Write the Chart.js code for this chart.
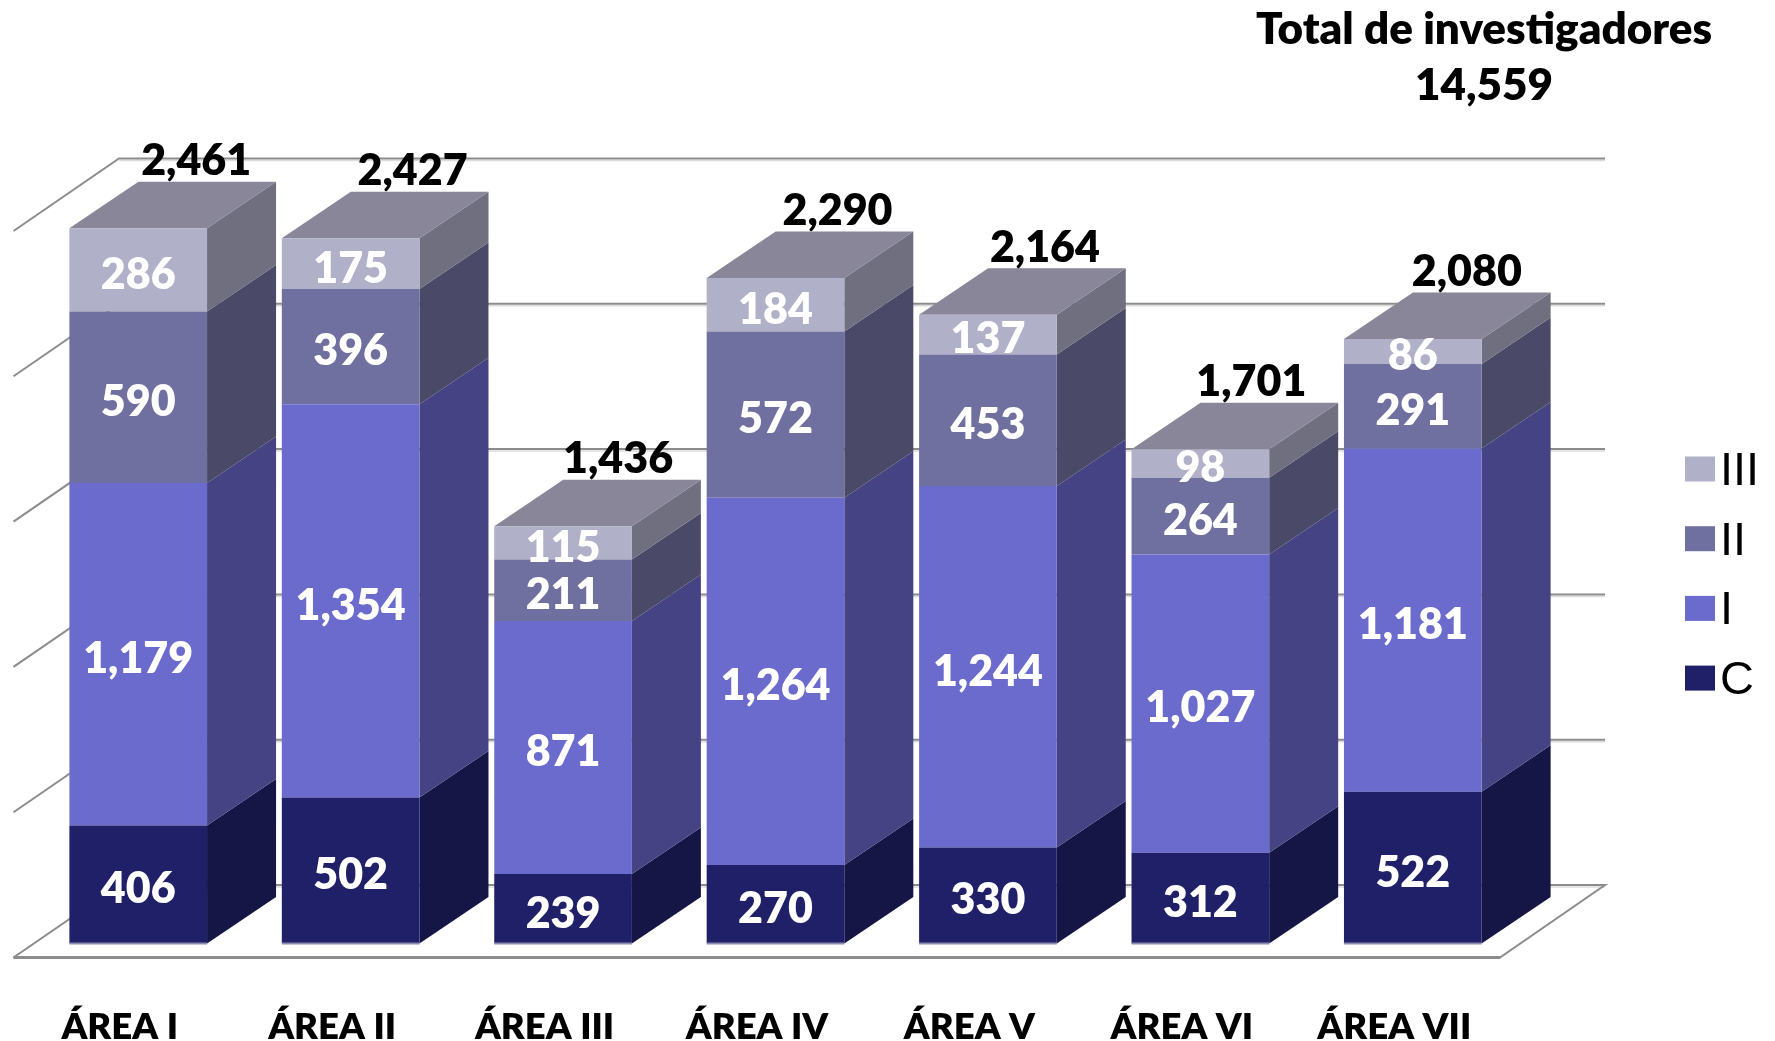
<!DOCTYPE html>
<html>
<head>
<meta charset="utf-8">
<style>html,body{margin:0;padding:0;background:#fff}canvas{display:block}</style>
<script src="https://cdn.jsdelivr.net/npm/chart.js@4"></script>
</head>
<body>
<canvas id="c" width="1775" height="1041"></canvas>
<script>
const categories = ['ÁREA I','ÁREA II','ÁREA III','ÁREA IV','ÁREA V','ÁREA VI','ÁREA VII'];
const valuesC   = [406, 502, 239, 270, 330, 312, 522];
const valuesI   = [1179, 1354, 871, 1264, 1244, 1027, 1181];
const valuesII  = [590, 396, 211, 572, 453, 264, 291];
const valuesIII = [286, 175, 115, 184, 137, 98, 86];
const totals    = [2461, 2427, 1436, 2290, 2164, 1701, 2080];
const yTicks    = [0, 500, 1000, 1500, 2000, 2500];
const titleLines = ['Total de investigadores', '14,559'];

const FONT = 'Lato, Carlito, sans-serif';
const BAR_DX = 69, BAR_DY = 46.5;          // bar depth projection
const WALL = {left:119, right:1605, frontLeft:13.5, frontRight:1500, back:58.5, front:14};
const TOTAL_DX = [58, 62, 55, 62, 57, 51, 54];   // the reference's total labels sit unevenly
const fmt = v => v.toLocaleString('en-US');

const chart3d = {
  id: 'chart3d',
  beforeDatasetsDraw(chart) {
    const {ctx, scales:{y}} = chart;
    ctx.save();
    // back wall grid, side-wall diagonals and floor
    y.ticks.forEach(t => {
      const p = y.getPixelForValue(t.value);
      const by = p - WALL.back, fy = p + WALL.front;
      ctx.lineCap = 'butt';
      ctx.strokeStyle = '#dcdcdc'; ctx.lineWidth = 1.5;
      ctx.beginPath(); ctx.moveTo(WALL.left, by + 2); ctx.lineTo(WALL.right, by + 2); ctx.stroke();
      ctx.strokeStyle = '#8c8c8c'; ctx.lineWidth = 2;
      ctx.beginPath(); ctx.moveTo(WALL.frontLeft, fy); ctx.lineTo(WALL.left, by); ctx.lineTo(WALL.right, by);
      if (t.value === 0) { ctx.lineTo(WALL.frontRight, fy); ctx.lineTo(WALL.frontLeft, fy); }
      ctx.stroke();
      if (t.value === 0) {
        ctx.lineWidth = 3;
        ctx.beginPath(); ctx.moveTo(WALL.frontLeft, fy); ctx.lineTo(WALL.frontRight, fy); ctx.stroke();
      }
    });
    // side and top faces of every bar
    chart.data.datasets.forEach((ds, i) => {
      chart.getDatasetMeta(i).data.forEach(bar => {
        const r = bar.x + bar.width / 2, l = bar.x - bar.width / 2;
        ctx.fillStyle = ds.sideColor;
        ctx.beginPath();
        ctx.moveTo(r, bar.y); ctx.lineTo(r + BAR_DX, bar.y - BAR_DY);
        ctx.lineTo(r + BAR_DX, bar.base - BAR_DY); ctx.lineTo(r, bar.base);
        ctx.closePath(); ctx.fill();
        if (ds.topColor) {
          ctx.fillStyle = ds.topColor;
          ctx.beginPath();
          ctx.moveTo(l, bar.y); ctx.lineTo(l + BAR_DX, bar.y - BAR_DY);
          ctx.lineTo(r + BAR_DX, bar.y - BAR_DY); ctx.lineTo(r, bar.y);
          ctx.closePath(); ctx.fill();
        }
      });
    });
    ctx.restore();
  },
  afterDatasetsDraw(chart) {
    const {ctx, scales:{y}} = chart;
    ctx.save();
    ctx.textAlign = 'center'; ctx.textBaseline = 'middle';
    // thin lighter edge along the foot of every bar
    chart.getDatasetMeta(0).data.forEach(bar => {
      ctx.fillStyle = '#8a8ab0';
      ctx.fillRect(bar.x - bar.width / 2, bar.base - 1, bar.width, 2);
    });
    // segment values
    ctx.font = '800 43px ' + FONT;
    ctx.fillStyle = '#ffffff';
    chart.data.datasets.forEach((ds, i) => {
      chart.getDatasetMeta(i).data.forEach((bar, j) => {
        ctx.fillText(fmt(ds.data[j]), bar.x, (bar.y + bar.base) / 2 + 5);
      });
    });
    // totals above the bars
    ctx.fillStyle = '#000000';
    const top = chart.getDatasetMeta(chart.data.datasets.length - 1).data;
    totals.forEach((v, j) => {
      ctx.fillText(fmt(v), top[j].x + TOTAL_DX[j], y.getPixelForValue(v) - 67);
    });
    // title block
    ctx.font = '800 44px ' + FONT;
    ctx.fillText(titleLines[0], 1484, 30);
    ctx.fillText(titleLines[1], 1484, 86);
    // legend
    const ds = chart.data.datasets;
    ctx.textAlign = 'left';
    ctx.font = '47px "Liberation Sans", Arial, sans-serif';
    for (let k = ds.length - 1, row = 0; k >= 0; k--, row++) {
      const cy = 469 + row * 69.7;
      ctx.fillStyle = ds[k].backgroundColor;
      ctx.fillRect(1685, cy - 12.5, 30, 25);
      ctx.fillStyle = '#000000';
      ctx.fillText(ds[k].label, 1720, cy + 3);
    }
    ctx.restore();
  }
};

new Chart(document.getElementById('c'), {
  type: 'bar',
  data: {
    labels: categories,
    datasets: [
      {label:'C',   data:valuesC,   backgroundColor:'#1f2068', sideColor:'#151645'},
      {label:'I',   data:valuesI,   backgroundColor:'#6b6bce', sideColor:'#454383'},
      {label:'II',  data:valuesII,  backgroundColor:'#7070a0', sideColor:'#4a4a68'},
      {label:'III', data:valuesIII, backgroundColor:'#b0b0c8', sideColor:'#6f6f80', topColor:'#888698'}
    ]
  },
  options: {
    responsive: false,
    animation: false,
    events: [],
    layout: {padding: {left:32, right:256, top:217, bottom:0}},
    datasets: {bar: {barPercentage:0.648, categoryPercentage:1, borderWidth:0}},
    plugins: {legend:{display:false}, title:{display:false}, tooltip:{enabled:false}},
    scales: {
      x: {
        stacked: true,
        afterFit(scale) { scale.height = 97.5; },
        grid: {display:false},
        border: {display:false},
        ticks: {
          color:'#000', maxRotation:0, minRotation:0, autoSkip:false,
          padding:57, labelOffset:-18.5,
          font:{family:FONT, weight:'800', size:36.5, lineHeight:1}
        }
      },
      y: {
        stacked: true,
        min: 0, max: 2500,
        afterFit(scale) { scale.width = 0; },
        afterBuildTicks(scale) { scale.ticks = yTicks.map(value => ({value})); },
        grid: {display:false},
        border: {display:false},
        ticks: {display:false}
      }
    }
  },
  plugins: [chart3d]
});
</script>
</body>
</html>
